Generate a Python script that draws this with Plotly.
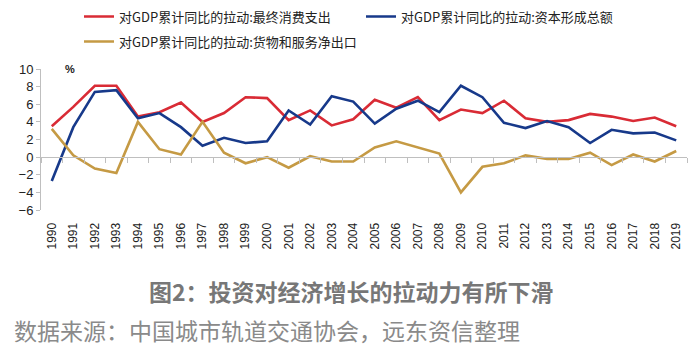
import plotly.graph_objects as go

years = [str(y) for y in range(1990, 2020)]
consumption = [3.5, 5.7, 8.1, 8.1, 4.6, 5.1, 6.2, 4.0, 5.0, 6.8, 6.7, 4.2, 5.3, 3.6, 4.3,
               6.5, 5.6, 6.8, 4.2, 5.4, 5.0, 6.4, 4.4, 4.0, 4.2, 4.9, 4.6, 4.1, 4.5, 3.5]
capital = [-2.7, 3.4, 7.4, 7.6, 4.4, 5.0, 3.4, 1.3, 2.2, 1.6, 1.8, 5.3, 3.7, 6.9, 6.3,
           3.8, 5.5, 6.4, 5.1, 8.1, 6.8, 3.9, 3.3, 4.1, 3.4, 1.6, 3.1, 2.7, 2.8, 1.9]
net_exports = [3.2, 0.2, -1.3, -1.8, 4.0, 0.9, 0.3, 4.0, 0.5, -0.7, 0.0, -1.2, 0.1, -0.5, -0.5,
               1.1, 1.8, 1.1, 0.4, -4.0, -1.1, -0.7, 0.2, -0.2, -0.2, 0.5, -0.9, 0.3, -0.5, 0.7]
y_ticks = [-6, -4, -2, 0, 2, 4, 6, 8, 10]

names = ["对GDP累计同比的拉动:最终消费支出", "对GDP累计同比的拉动:资本形成总额", "对GDP累计同比的拉动:货物和服务净出口"]
colors = ["#D92B35", "#17398A", "#C59A44"]

CJK = "Noto Sans CJK SC"
fig = go.Figure()
fig.add_trace(go.Scatter(x=years, y=consumption, name=names[0], mode="lines",
                         line=dict(color=colors[0], width=2.6), legend="legend"))
fig.add_trace(go.Scatter(x=years, y=capital, name=names[1], mode="lines",
                         line=dict(color=colors[1], width=2.6), legend="legend"))
fig.add_trace(go.Scatter(x=years, y=net_exports, name=names[2], mode="lines", xaxis="x2",
                         line=dict(color=colors[2], width=2.6), legend="legend2"))

L, R, T, B = 41, 13, 69, 141
W, H = 700, 351
pw, ph = W - L - R, H - T - B

def px(x):
    return (x - L) / pw

def py(y):
    return (H - B - y) / ph

fig.update_layout(
    width=W, height=H,
    margin=dict(l=L, r=R, t=T, b=B, autoexpand=False),
    paper_bgcolor="white", plot_bgcolor="white",
    font=dict(family="Liberation Sans, Arial", color="#333333"),
    legend=dict(orientation="h", x=px(79), xanchor="left", y=py(16.5), yanchor="middle",
                entrywidth=237, font=dict(family=CJK, size=13, color="#222222"),
                bgcolor="rgba(0,0,0,0)", itemwidth=30),
    legend2=dict(orientation="h", x=px(79), xanchor="left", y=py(41.5), yanchor="middle",
                 font=dict(family=CJK, size=13, color="#222222"),
                 bgcolor="rgba(0,0,0,0)", itemwidth=30),
    xaxis=dict(type="category", categoryarray=years, range=[-0.5, 29.5],
               ticks="outside", ticklen=7, tickcolor="rgba(0,0,0,0)",
               tickangle=-90, showline=False, showgrid=False, zeroline=False,
               tickfont=dict(family="Liberation Sans, Arial", size=12, color="#222222")),
    xaxis2=dict(type="category", categoryarray=years, range=[-0.5, 29.5], matches="x",
                overlaying="x", anchor="free", position=6 / 16,
                showline=True, linecolor="#BFBFBF", linewidth=1,
                ticks="outside", tickson="boundaries", ticklen=5, tickcolor="#BFBFBF",
                showticklabels=False, showgrid=False, zeroline=False),
    yaxis=dict(range=[-6, 10], tickvals=y_ticks, showgrid=False, zeroline=False,
               showline=True, linecolor="#BFBFBF", linewidth=1,
               ticks="outside", ticklen=4, tickcolor="#BFBFBF",
               tickfont=dict(family="Liberation Sans, Arial", size=13, color="#222222")),
    showlegend=True,
)

fig.add_annotation(text="<b>%</b>", xref="paper", yref="y", x=px(63), y=10,
                   showarrow=False, font=dict(size=11, color="#222222"))
fig.add_annotation(text="<b>图2：投资对经济增长的拉动力有所下滑</b>", xref="paper", yref="paper",
                   x=px(351), y=py(291), xanchor="center", yanchor="middle", showarrow=False,
                   font=dict(family=CJK, size=23, color="#777777"))
fig.add_annotation(text="数据来源：中国城市轨道交通协会，远东资信整理", xref="paper", yref="paper",
                   x=px(12), y=py(330), xanchor="left", yanchor="middle", showarrow=False,
                   font=dict(family=CJK, size=23, color="#8A8A8A"))

fig.write_html("out.html")
